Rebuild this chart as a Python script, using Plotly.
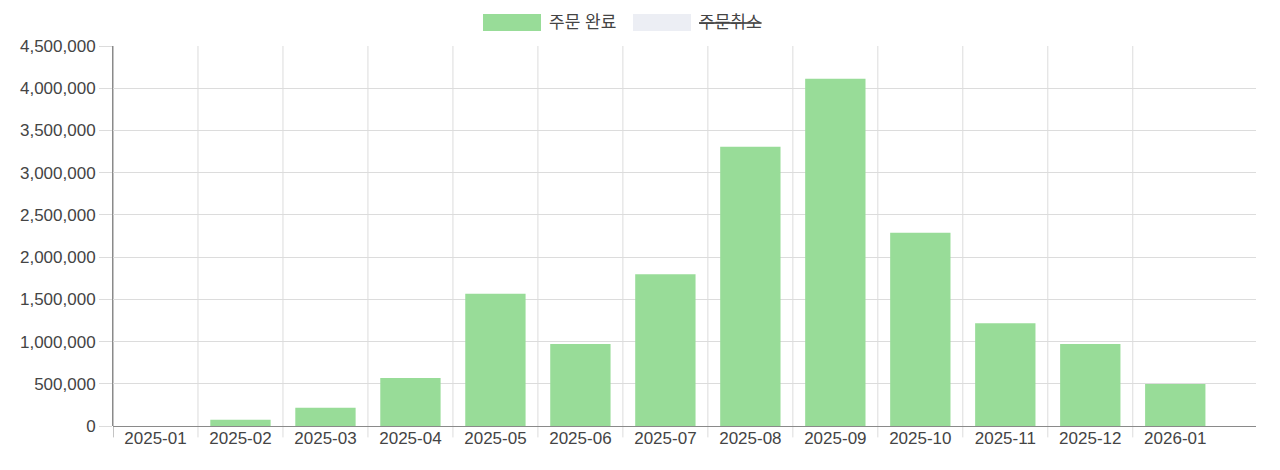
import plotly.graph_objects as go

# ── data ───────────────────────────────────────────────────────────
months = ["2025-01", "2025-02", "2025-03", "2025-04", "2025-05", "2025-06", "2025-07",
          "2025-08", "2025-09", "2025-10", "2025-11", "2025-12", "2026-01"]
completed = [0, 75000, 217000, 568000, 1567000, 971000, 1796000,
             3307000, 4113000, 2289000, 1216000, 971000, 497000]
series_names = ["주문 완료", "주문취소"]

# ── style ──────────────────────────────────────────────────────────
GREEN = "#98dc98"
CANCEL_GRAY = "#eceef4"
GRID = "#dcdcdc"
AXIS = "#8a8a8a"
TEXT = "#444444"
FONT = "Liberation Sans, Arial, Noto Sans CJK KR, sans-serif"

# page body has an 8px margin, so the figure is drawn 8px right/down
OFF = 8
W, H = 1280, 470
L, R, T, B = 113 - OFF, 24 + OFF, 46 - OFF, 44 + OFF
plot_w = W - L - R
plot_h = H - T - B


def px_x(px):
    return (px - OFF - L) / plot_w


def px_y(py):
    return (H - B - (py - OFF)) / plot_h


fig = go.Figure()
fig.add_trace(go.Bar(
    x=months, y=completed, name=series_names[0],
    marker=dict(color=GREEN, line=dict(width=0)),
    width=0.71, showlegend=False, hoverinfo="x+y",
))

# vertical grid lines between categories, running down as tick marks
shapes = []
for i in range(len(months)):
    shapes.append(dict(
        type="line", xref="x", yref="paper", x0=i - 0.5, x1=i - 0.5,
        y0=-0.03, y1=1, layer="below",
        line=dict(color=AXIS if i == 0 else GRID, width=1),
    ))

# hand-made legend (second series is toggled off, so it is struck through)
shapes.append(dict(type="rect", xref="paper", yref="paper",
                   x0=px_x(483), x1=px_x(541), y0=px_y(31), y1=px_y(14),
                   fillcolor=GREEN, line=dict(width=0)))
shapes.append(dict(type="rect", xref="paper", yref="paper",
                   x0=px_x(633), x1=px_x(691), y0=px_y(31), y1=px_y(14),
                   fillcolor=CANCEL_GRAY, line=dict(width=0)))

annotations = [
    dict(xref="paper", yref="paper", x=px_x(547), y=px_y(22), text=series_names[0],
         showarrow=False, xanchor="left", yanchor="middle",
         font=dict(size=17, color=TEXT, family=FONT)),
    dict(xref="paper", yref="paper", x=px_x(697), y=px_y(22), text=f"<s>{series_names[1]}</s>",
         showarrow=False, xanchor="left", yanchor="middle",
         font=dict(size=17, color=TEXT, family=FONT)),
]

fig.update_layout(
    width=W, height=H,
    margin=dict(l=L, r=R, t=T, b=B),
    paper_bgcolor="white", plot_bgcolor="white",
    font=dict(family=FONT, size=17, color=TEXT),
    shapes=shapes, annotations=annotations,
    xaxis=dict(
        type="category", range=[-0.5, 12.95],
        showgrid=False, showline=False, zeroline=False,
        ticks="", tickfont=dict(size=17, color=TEXT),
    ),
    yaxis=dict(
        range=[0, 4500000], dtick=500000, tickformat=",",
        showgrid=True, gridcolor=GRID, gridwidth=1,
        zeroline=True, zerolinecolor=AXIS, zerolinewidth=1,
        showline=True, linecolor=AXIS, linewidth=1,
        ticks="outside", ticklen=13, tickcolor=GRID,
        tickfont=dict(size=17, color=TEXT),
        automargin=False,
    ),
)

fig.write_html("out.html")
